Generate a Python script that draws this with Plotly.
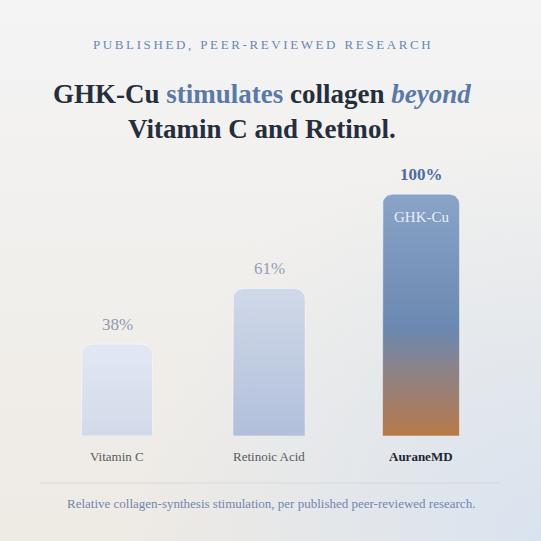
import base64
import plotly.graph_objects as go

# ---------------- data ----------------
categories = ["Vitamin C", "Retinoic Acid", "AuraneMD"]
values = [38, 61, 100]
value_labels = ["38%", "61%", "100%"]
inner_label = "GHK-Cu"
header_text = "PUBLISHED, PEER-REVIEWED RESEARCH"
caption_text = "Relative collagen-synthesis stimulation, per published peer-reviewed research."

# ---------------- styles ----------------
bar_widths = [0.467, 0.475, 0.507]
bar_scales = [
    [[0, "#d2dae9"], [1, "#e2e8f3"]],
    [[0, "#b1bfdb"], [1, "#d0d9e8"]],
    [[0, "#b97a47"], [0.12, "#a47d66"], [0.28, "#8b8389"], [0.44, "#6b88b0"], [1, "#8aa4c8"]],
]
label_colors = ["#8e99b1", "#949fb4", "#4e6b9c"]
SERIF = "Liberation Serif"

W = H = 541
x_px0, x_px1 = 41, 497          # x domain in pixels
y_px_bottom, y_px_top = 436, 170  # y domain in pixels (from top)
x_range = [-0.5, 2.5]
y_range = [0, 110]
px_per_x = (x_px1 - x_px0) / (x_range[1] - x_range[0])
px_per_y = (y_px_bottom - y_px_top) / (y_range[1] - y_range[0])
radius_px = 10
title_cx = 262 / W


def rounded_top_bar(xc, w, v, r_px, n=10):
    import math
    rx = r_px / px_per_x
    ry = r_px / px_per_y
    x0, x1 = xc - w / 2, xc + w / 2
    xs, ys = [x0], [0]
    for k in range(n + 1):
        a = math.pi - (math.pi / 2) * k / n
        xs.append(x0 + rx + rx * math.cos(a))
        ys.append(v - ry + ry * math.sin(a))
    for k in range(n + 1):
        a = math.pi / 2 - (math.pi / 2) * k / n
        xs.append(x1 - rx + rx * math.cos(a))
        ys.append(v - ry + ry * math.sin(a))
    xs += [x1, x0]
    ys += [0, 0]
    return xs, ys


fig = go.Figure()
for i, (cat, v) in enumerate(zip(categories, values)):
    xs, ys = rounded_top_bar(i, bar_widths[i], v, radius_px)
    fig.add_trace(go.Scatter(
        x=xs, y=ys, mode="lines", fill="toself",
        line=dict(color="rgba(255,255,255,0.45)", width=1),
        fillgradient=dict(type="vertical", colorscale=bar_scales[i], start=0, stop=v),
        hoverinfo="skip", showlegend=False, name=cat,
    ))

annotations = []
for i, (cat, v, lab) in enumerate(zip(categories, values, value_labels)):
    bold = i == len(categories) - 1
    annotations.append(dict(
        x=i, y=v, xref="x", yref="y", yanchor="bottom", yshift=8,
        text=f"<b>{lab}</b>" if bold else lab, showarrow=False,
        font=dict(family=SERIF, size=17, color=label_colors[i]),
    ))
    annotations.append(dict(
        x=i, y=0, xref="x", yref="y", yanchor="middle", yshift=-20,
        text=f"<b>{cat}</b>" if bold else cat, showarrow=False,
        font=dict(family=SERIF, size=13, color="#1f2633" if bold else "#575b63"),
    ))
annotations.append(dict(
    x=2, y=values[2], xref="x", yref="y", yanchor="middle", yshift=-23,
    text=inner_label, showarrow=False,
    font=dict(family=SERIF, size=15, color="rgba(255,255,255,0.85)"),
))

spaced_header = "\u2009".join(list(header_text)).replace("\u2009 \u2009", "\u2002\u2009")
annotations.append(dict(
    x=title_cx, y=1 - 44 / H, xref="paper", yref="paper", yanchor="middle",
    text=spaced_header, showarrow=False,
    font=dict(family=SERIF, size=13, color="#6a86b4"),
))
title_html = ("<b>GHK-Cu <span style='color:#5b79a6'>stimulates</span> collagen "
              "<i><span style='color:#5b79a6'>beyond</span></i></b><br>"
              "<b>Vitamin C and Retinol.</b>")
annotations.append(dict(
    x=title_cx, y=1 - 112 / H, xref="paper", yref="paper", yanchor="middle",
    text=title_html, showarrow=False, align="center",
    font=dict(family=SERIF, size=27, color="#262e3c"),
))
annotations.append(dict(
    x=0.5, y=1 - 503 / H, xref="paper", yref="paper", yanchor="middle",
    text=caption_text, showarrow=False,
    font=dict(family=SERIF, size=13, color="#7086ae"),
))

svg = f"""<svg xmlns='http://www.w3.org/2000/svg' width='{W}' height='{H}' viewBox='0 0 {W} {H}'>
<defs>
<linearGradient id='g' x1='0' y1='0' x2='0' y2='1'>
<stop offset='0' stop-color='#f4f4f5'/><stop offset='0.5' stop-color='#f1efec'/><stop offset='1' stop-color='#eeeae4'/>
</linearGradient>
<radialGradient id='r' cx='1' cy='1' r='0.75'>
<stop offset='0' stop-color='#d9e3ef' stop-opacity='1'/><stop offset='1' stop-color='#d9e3ef' stop-opacity='0'/>
</radialGradient>
</defs>
<rect width='100%' height='100%' fill='url(#g)'/>
<rect width='100%' height='100%' fill='url(#r)'/>
</svg>"""
bg_src = "data:image/svg+xml;base64," + base64.b64encode(svg.encode()).decode()

fig.update_layout(
    width=W, height=H,
    margin=dict(l=0, r=0, t=0, b=0),
    paper_bgcolor="#f1efec", plot_bgcolor="rgba(0,0,0,0)",
    xaxis=dict(range=x_range, domain=[x_px0 / W, x_px1 / W], visible=False, fixedrange=True),
    yaxis=dict(range=y_range, domain=[1 - y_px_bottom / H, 1 - y_px_top / H], visible=False, fixedrange=True),
    annotations=annotations,
    shapes=[dict(type="line", xref="paper", yref="paper", x0=40 / W, x1=501 / W,
                 y0=1 - 483 / H, y1=1 - 483 / H, line=dict(color="#d6d8db", width=1))],
    images=[dict(source=bg_src, xref="paper", yref="paper", x=0, y=1, sizex=1, sizey=1,
                 xanchor="left", yanchor="top", sizing="stretch", layer="below")],
    showlegend=False,
)
fig.write_html("out.html", config={"displayModeBar": False})
